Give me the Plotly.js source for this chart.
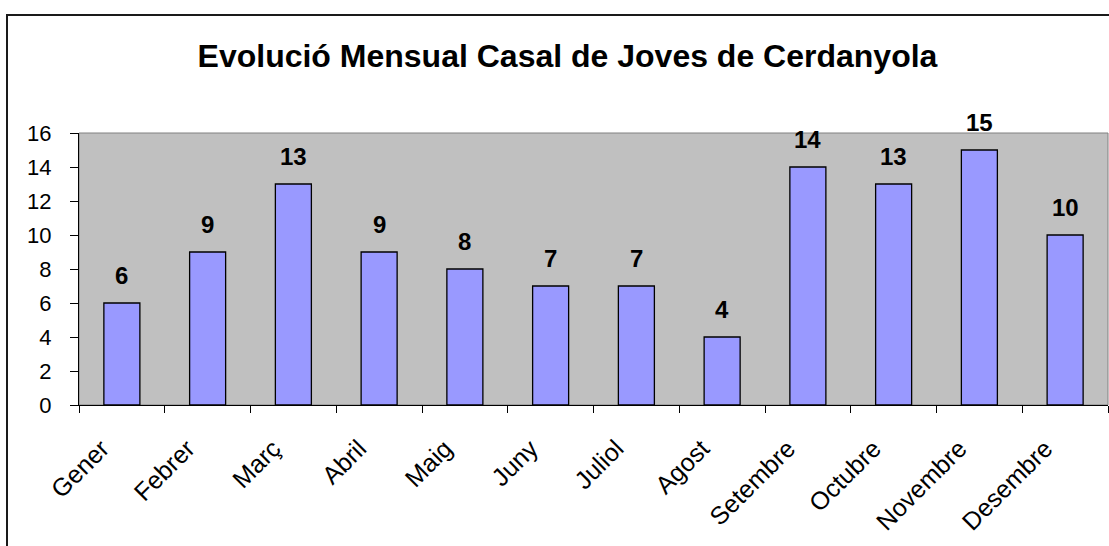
<!DOCTYPE html>
<html>
<head>
<meta charset="utf-8">
<script src="https://cdn.plot.ly/plotly-3.0.1.min.js"></script>
<style>
html, body { margin: 0; padding: 0; background: #ffffff; overflow: hidden; }
#chart { position: absolute; left: 0; top: 0; width: 1109px; height: 546px; }
#frame { position: absolute; left: 6px; top: 14px; width: 1120px; height: 560px; border: 2px solid #1a1a1a; box-sizing: border-box; pointer-events: none; }
</style>
</head>
<body>
<div id="chart"></div>
<div id="frame"></div>
<script>
const months = ["Gener", "Febrer", "Març", "Abril", "Maig", "Juny", "Juliol", "Agost", "Setembre", "Octubre", "Novembre", "Desembre"];
const values = [6, 9, 13, 9, 8, 7, 7, 4, 14, 13, 15, 10];
const titleText = "Evolució Mensual Casal de Joves de Cerdanyola";
const yTicks = [0, 2, 4, 6, 8, 10, 12, 14, 16];

const FONT = "Liberation Sans, Arial, sans-serif";

const trace = {
  type: "bar",
  x: months,
  y: values,
  marker: { color: "#9999ff", line: { color: "#000000", width: 1.3 } },
  hoverinfo: "x+y"
};

const annotations = months.map((m, i) => ({
  x: m, y: values[i], xref: "x", yref: "y",
  text: "<b>" + values[i] + "</b>",
  showarrow: false, yanchor: "bottom", yshift: 12,
  font: { family: FONT, size: 24, color: "#000" }
}));

const layout = {
  width: 1109, height: 546,
  margin: { l: 79, r: 1, t: 133, b: 141 },
  paper_bgcolor: "#ffffff",
  plot_bgcolor: "#c0c0c0",
  title: {
    text: "<b>" + titleText + "</b>",
    font: { family: FONT, size: 32, color: "#000" },
    x: 0.5117, xanchor: "center", y: 0.897, yanchor: "middle"
  },
  bargap: 0.58,
  showlegend: false,
  xaxis: {
    type: "category",
    tickangle: -45,
    tickson: "boundaries",
    ticks: "outside", ticklen: 7, tickcolor: "#000", tickwidth: 1,
    showline: true, linecolor: "#000", linewidth: 1,
    showgrid: false, zeroline: false,
    ticklabelstandoff: 18,
    ticklabelshift: -20,
    tickfont: { family: FONT, size: 25, color: "#000" }
  },
  yaxis: {
    range: [0, 16],
    tickvals: yTicks,
    ticks: "outside", ticklen: 8, tickcolor: "#000", tickwidth: 1,
    showline: true, linecolor: "#000", linewidth: 1,
    showgrid: false, zeroline: false,
    ticklabelstandoff: 14,
    tickfont: { family: FONT, size: 22, color: "#000" }
  },
  shapes: [{
    type: "rect", xref: "paper", yref: "paper", x0: 0, x1: 1, y0: 0, y1: 1,
    line: { color: "#808080", width: 1 }, fillcolor: "rgba(0,0,0,0)", layer: "below"
  }],
  annotations: annotations
};

Plotly.newPlot("chart", [trace], layout, { displayModeBar: false, staticPlot: true });
</script>
</body>
</html>
